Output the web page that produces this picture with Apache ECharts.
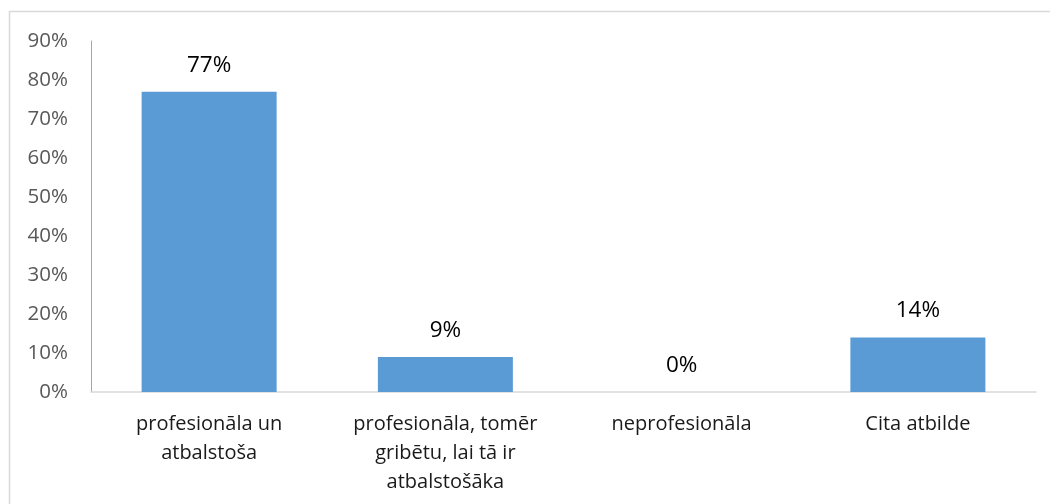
<!DOCTYPE html>
<html>
<head>
<meta charset="utf-8">
<script src="https://cdn.jsdelivr.net/npm/echarts@6/dist/echarts.min.js"></script>
<style>
  html, body { margin: 0; padding: 0; background: #fff; }
  #chart { width: 1050px; height: 504px; }
</style>
</head>
<body>
<div id="chart"></div>
<script>
// atbildes (kategorijas) un vērtības procentos
const categories = [
  'profesionāla un\natbalstoša',
  'profesionāla, tomēr\ngribētu, lai tā ir\natbalstošāka',
  'neprofesionāla',
  'Cita atbilde'
]
const values = [77, 9, 0, 14]
const yTicks = [0, 10, 20, 30, 40, 50, 60, 70, 80, 90]

const font = "'Open Sans', 'Liberation Sans', sans-serif"

let chart = echarts.init(document.getElementById('chart'))

let option = {
  animation: false,
  textStyle: { fontFamily: font },
  graphic: [
    {
      type: 'rect',
      shape: { x: 9.5, y: 11.5, width: 1200, height: 700 },
      style: { fill: 'none', stroke: '#d9d9d9', lineWidth: 1.5 },
      silent: true
    }
  ],
  grid: {
    left: 91,
    right: 14,
    top: 41,
    bottom: 112
  },
  xAxis: {
    type: 'category',
    data: categories,
    axisLine: { lineStyle: { color: '#d9d9d9', width: 1.5 } },
    axisTick: { show: false },
    axisLabel: {
      interval: 0,
      margin: 18,
      color: '#1a1a1a',
      fontSize: 20,
      lineHeight: 29,
      fontFamily: font
    }
  },
  yAxis: {
    type: 'value',
    min: yTicks[0],
    max: yTicks[yTicks.length - 1],
    interval: 10,
    splitLine: { show: false },
    axisLine: { show: true, lineStyle: { color: '#a6a6a6', width: 1 } },
    axisTick: { show: false },
    axisLabel: {
      margin: 23,
      color: '#595959',
      fontSize: 20.5,
      fontFamily: font,
      formatter: v => v + '%'
    }
  },
  series: [
    {
      type: 'bar',
      data: values,
      barWidth: 135,
      itemStyle: { color: '#5b9bd5' },
      label: {
        show: true,
        position: 'top',
        distance: 15,
        color: '#000',
        fontSize: 22.5,
        fontFamily: font,
        formatter: p => p.value + '%'
      }
    }
  ]
}

chart.setOption(option)
</script>
</body>
</html>
